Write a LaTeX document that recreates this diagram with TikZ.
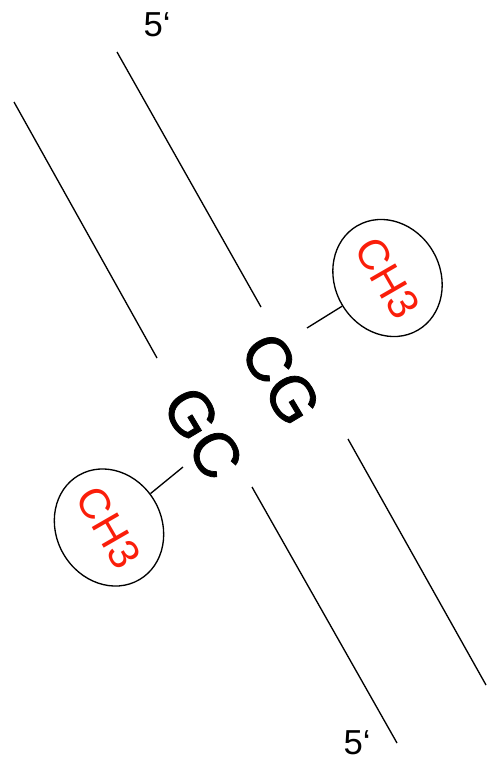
\documentclass[tikz,border=0pt]{standalone}
\usepackage{fontspec}
\setmainfont{Liberation Sans}
\newfontfamily\basefont[FakeBold=1.2]{Liberation Sans}
\usetikzlibrary{shapes.geometric}
\definecolor{chred}{RGB}{250,30,10}
\begin{document}
\begin{tikzpicture}[x=0.75pt,y=-0.75pt,
  strand/.style={line width=1pt},
  base/.style={font=\basefont\fontsize{47}{47}\selectfont, rotate=-59, inner sep=0pt},
  methyl/.style={draw, ellipse, line width=1pt, minimum width=84pt, minimum height=79pt, inner sep=0pt, rotate=-60, text=chred, font=\fontsize{32}{32}\selectfont},
  prime/.style={font=\fontsize{26}{26}\selectfont, inner sep=0pt}]
\useasboundingbox (0,0) rectangle (486,760);
% strands
\coordinate (a1) at (14,102);  \coordinate (a2) at (157,358);
\coordinate (b1) at (117,52);  \coordinate (b2) at (261,307);
\coordinate (c1) at (252,487); \coordinate (c2) at (397,743);
\coordinate (d1) at (348,439); \coordinate (d2) at (486,685);
\draw[strand] (a1) -- (a2);
\draw[strand] (b1) -- (b2);
\draw[strand] (c1) -- (c2);
\draw[strand] (d1) -- (d2);
% labels
\node[prime] (p1) at (157,25) {5‘};
\node[prime] (p2) at (357,743) {5‘};
\node[base] (cg) at (281,379) {CG};
\node[base] (gc) at (203,433) {GC};
% methyl groups
\node[methyl] (m1) at (387.5,278) {CH3};
\node[methyl] (m2) at (109,527.5) {CH3};
\coordinate (k1) at (307,328);
\coordinate (k2) at (183,467);
\draw[strand] (k1) -- (m1);
\draw[strand] (k2) -- (m2);
\end{tikzpicture}
\end{document}
